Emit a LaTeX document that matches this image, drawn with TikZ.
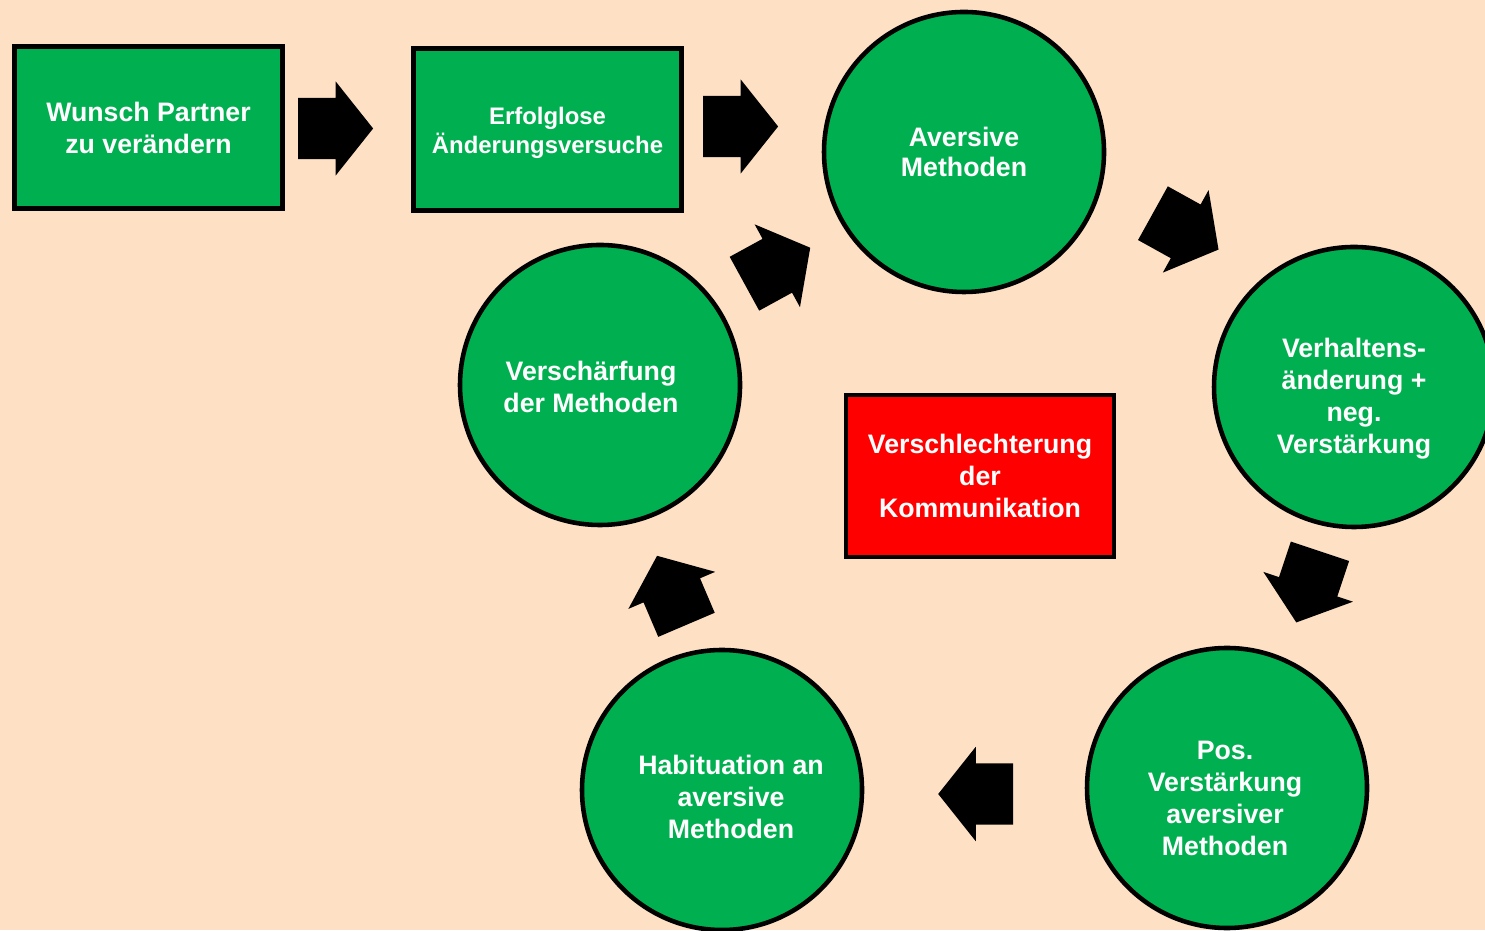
\documentclass[tikz,border=0pt]{standalone}
\usepackage{fontspec}
\setmainfont{Liberation Sans}
\usetikzlibrary{shapes.arrows}

\definecolor{peach}{RGB}{254,225,197}
\definecolor{pptgreen}{RGB}{0,176,80}

\tikzset{
  txt/.style={text=white, font=\bfseries\fontsize{7.6}{9.1}\selectfont, align=center},
  box/.style={txt, rectangle, draw=black, line width=1.4pt, fill=pptgreen,
              minimum width=2.68cm, minimum height=1.62cm, inner sep=0pt},
  redbox/.style={box, fill=red},
  circ/.style={circle, draw=black, line width=1.3pt, fill=pptgreen,
               minimum size=2.8cm, inner sep=0pt},
  blockarr/.style={single arrow, fill=black, draw=none, inner xsep=0pt, inner ysep=0.3cm,
                   minimum height=0.75cm, single arrow head extend=0.165cm,
                   single arrow tip angle=103, anchor=tip},
}

\begin{document}
\begin{tikzpicture}
  \useasboundingbox[fill=peach] (0,0) rectangle (14.85,9.3);
  \clip (0,0) rectangle (14.85,9.3);

  % start
  \node[box] (wunsch) at (1.485, 8.025) {Wunsch Partner\\zu ver\"andern};
  \node[box, label={[txt, font=\bfseries\fontsize{6.8}{8.25}\selectfont, yshift=-0.03cm]center:{Erfolglose\\\"Anderungsversuche}}]
        (versuch) at (5.475, 8.005) {};

  % cycle
  \node[circ, label={[txt, font=\bfseries\fontsize{7.6}{8.4}\selectfont]center:{Aversive\\Methoden}}]
        (aversiv) at (9.64, 7.78) {};
  \node[circ, label={[txt, yshift=-0.12cm]center:{Verhaltens-\\\"anderung +\\neg.\\Verst\"arkung}}]
        (verhalt) at (13.54, 5.43) {};
  \node[circ, label={[txt, xshift=-0.02cm, yshift=-0.10cm]center:{Pos.\\Verst\"arkung\\aversiver\\Methoden}}]
        (posverst) at (12.27, 1.42) {};
  \node[circ, label={[txt, xshift=0.09cm, yshift=-0.07cm]center:{Habituation an\\aversive\\Methoden}}]
        (habit) at (7.22, 1.40) {};
  \node[circ, label={[txt, xshift=-0.09cm, yshift=-0.02cm]center:{Versch\"arfung\\der Methoden}}]
        (schaerf) at (6.00, 5.45) {};

  % middle
  \node[redbox] (komm) at (9.80, 4.54) {Verschlechterung\\der\\Kommunikation};

  % arrows
  \node[blockarr] (a1) at (3.74, 8.015) {};
  \node[blockarr] (a2) at (7.79, 8.035) {};
  \node[blockarr, rotate=-29] (a3) at (12.193, 6.80) {};
  \node[blockarr, rotate=-108.4] (a4) at (12.96, 3.067) {};
  \node[blockarr, rotate=180] (a5) at (9.373, 1.36) {};
  \node[blockarr, rotate=113.1] (a6) at (6.567, 3.75) {};
  \node[blockarr, rotate=28.7] (a7) at (8.11, 6.827) {};
\end{tikzpicture}
\end{document}
